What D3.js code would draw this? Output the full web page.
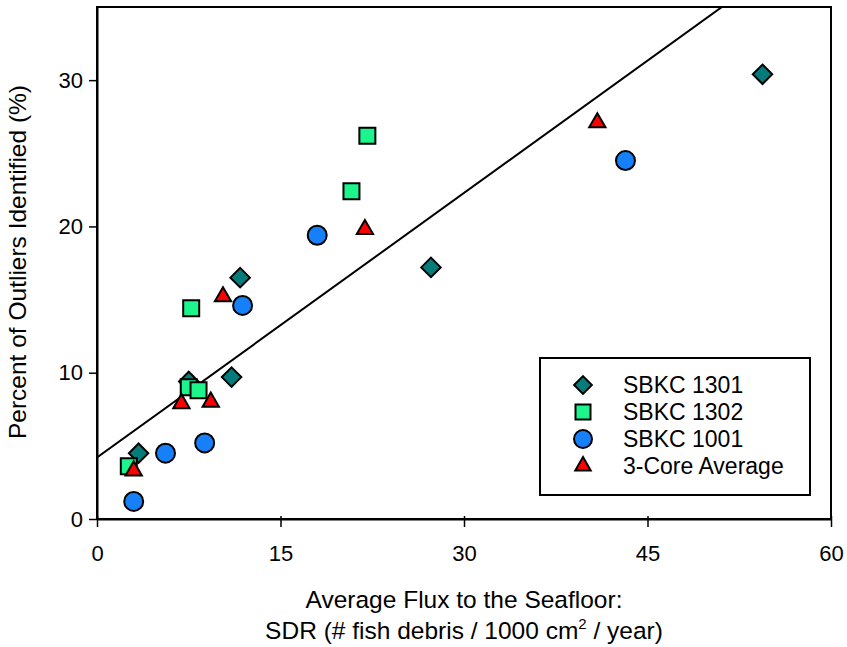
<!DOCTYPE html>
<html><head><meta charset="utf-8">
<script src="https://cdn.jsdelivr.net/npm/d3@7"></script>
<style>body{margin:0;background:#fff}svg{display:block}text{font-family:Arial,"Liberation Sans",sans-serif;fill:#000}</style>
</head><body><svg id="c" width="847" height="647"></svg>
<script>
const xTicks = [0, 15, 30, 45, 60];
const yTicks = [0, 10, 20, 30];
const sbkc1301X = [54.4, 11.7, 27.3, 11.0, 7.5, 3.4];
const sbkc1301Y = [30.4, 16.5, 17.2, 9.7, 9.4, 4.5];
const sbkc1302X = [22.1, 20.8, 7.7, 7.5, 8.3, 2.6];
const sbkc1302Y = [26.2, 22.4, 14.4, 9.0, 8.8, 3.6];
const sbkc1001X = [43.2, 18.0, 11.9, 8.8, 5.6, 3.0];
const sbkc1001Y = [24.5, 19.4, 14.6, 5.2, 4.5, 1.2];
const avgX = [40.9, 21.9, 10.3, 6.9, 9.3, 3.0];
const avgY = [27.1, 19.8, 15.2, 7.9, 8.0, 3.3];
const fitX = [0, 60];
const fitY = [4.2, 4.2 + 0.603 * 60];
const seriesNames = ["SBKC 1301", "SBKC 1302", "SBKC 1001", "3-Core Average"];

const svg = d3.select("#c");
const L = 97, R = 831, T = 7, B = 519;
const x = d3.scaleLinear().domain([0, 60]).range([L, R]);
const y = d3.scaleLinear().domain([0, 35]).range([B, T]);

const series = [
  {name: seriesNames[0], xs: sbkc1301X, ys: sbkc1301Y, sym: d3.symbolDiamond2, size: 2*11*11, fill: "#057C7A"},
  {name: seriesNames[1], xs: sbkc1302X, ys: sbkc1302Y, sym: d3.symbolSquare, size: 16*16, fill: "#1CF58C"},
  {name: seriesNames[2], xs: sbkc1001X, ys: sbkc1001Y, sym: d3.symbolCircle, size: Math.PI*9.5*9.5, fill: "#1680F8"},
  {name: seriesNames[3], xs: avgX, ys: avgY, sym: d3.symbolTriangle2, size: 190, fill: "#FF0000"}
];

svg.append("defs").append("clipPath").attr("id","clip").append("rect")
  .attr("x", L).attr("y", T).attr("width", R-L).attr("height", B-T);

svg.append("rect").attr("x", L).attr("y", T).attr("width", R-L).attr("height", B-T)
  .attr("fill","none").attr("stroke","#000").attr("stroke-width",2);

const xa = svg.append("g").attr("transform", `translate(0,${B})`)
  .call(d3.axisBottom(x).tickValues(xTicks).tickSize(8).tickSizeOuter(0).tickPadding(18));
xa.select(".domain").attr("stroke-width",2);
xa.selectAll(".tick line").attr("stroke-width",1.5).attr("y1",-3);
xa.selectAll(".tick text").attr("font-size",22).attr("font-family","Arial, Liberation Sans, sans-serif");

const ya = svg.append("g").attr("transform", `translate(${L},0)`)
  .call(d3.axisLeft(y).tickValues(yTicks).tickSize(8).tickSizeOuter(0).tickPadding(6));
ya.select(".domain").attr("stroke-width",2);
ya.selectAll(".tick line").attr("stroke-width",1.5);
ya.selectAll(".tick text").attr("font-size",22).attr("font-family","Arial, Liberation Sans, sans-serif");

svg.append("path").attr("clip-path","url(#clip)")
  .attr("d", d3.line().x((d,i)=>x(fitX[i])).y((d,i)=>y(fitY[i]))(fitX))
  .attr("fill","none").attr("stroke","#000").attr("stroke-width",2);

series.forEach(s => {
  const sym = d3.symbol().type(s.sym).size(s.size);
  svg.append("g").selectAll("path").data(s.xs).join("path")
    .attr("d", sym)
    .attr("transform", (d,i) => `translate(${x(s.xs[i])},${y(s.ys[i])})`)
    .attr("fill", s.fill).attr("stroke","#000").attr("stroke-width",2);
});

const lg = svg.append("g");
lg.append("rect").attr("x",540).attr("y",358).attr("width",270).attr("height",137)
  .attr("fill","#fff").attr("stroke","#000").attr("stroke-width",2);
series.forEach((s,i) => {
  const yy = 385 + i*27;
  const sz = i===0 ? 2*10*10 : i===1 ? 15*15 : i===2 ? Math.PI*9*9 : 170;
  lg.append("path").attr("d", d3.symbol().type(s.sym).size(sz))
    .attr("transform", `translate(583,${yy})`)
    .attr("fill", s.fill).attr("stroke","#000").attr("stroke-width",2);
  lg.append("text").attr("x",623).attr("y",yy).attr("dy","0.36em")
    .attr("font-size",23).text(s.name);
});

svg.append("text").attr("transform","translate(26,262) rotate(-90)")
  .attr("text-anchor","middle").attr("font-size",24.5).text("Percent of Outliers Identified (%)");
svg.append("text").attr("x",464).attr("y",608).attr("text-anchor","middle").attr("font-size",24.5)
  .text("Average Flux to the Seafloor:");
const xt2 = svg.append("text").attr("x",464).attr("y",639).attr("text-anchor","middle").attr("font-size",24.5);
xt2.append("tspan").text("SDR (# fish debris / 1000 cm");
xt2.append("tspan").attr("font-size",15).attr("dy",-10).text("2");
xt2.append("tspan").attr("dy",10).text(" / year)");
</script></body></html>
